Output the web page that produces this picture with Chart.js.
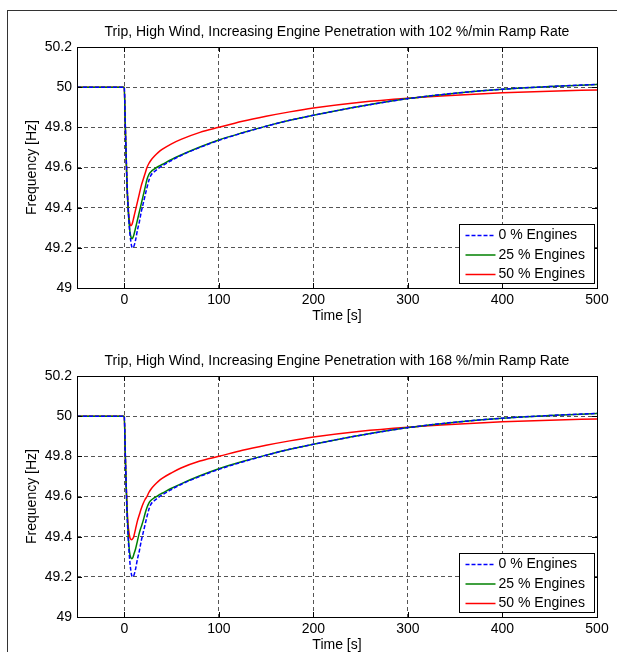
<!DOCTYPE html>
<html>
<head>
<meta charset="utf-8">
<script src="https://cdn.jsdelivr.net/npm/chart.js@4.4.0/dist/chart.umd.min.js"></script>
<style>
    html, body { margin: 0; padding: 0; background: #fff; overflow: hidden; }
    body { width: 617px; height: 652px; position: relative; }
    .page-frame { position: absolute; left: 7px; top: 10px; width: 610px; height: 642px; border-left: 1px solid #333; border-top: 1px solid #333; }
    .plot { position: absolute; left: 0; width: 617px; height: 330px; }
    #chartTop { top: 0; }
    #chartBottom { top: 329px; }
</style>
</head>
<body>
<div class="page-frame"></div>
<div class="plot" id="chartTop"><canvas id="freqTop" width="617" height="330"></canvas></div>
<div class="plot" id="chartBottom"><canvas id="freqBottom" width="617" height="330"></canvas></div>
<script>
const seriesLabels = ['0 % Engines', '25 % Engines', '50 % Engines'];
const xTicks = [0, 100, 200, 300, 400, 500];
const yTicks = [49, 49.2, 49.4, 49.6, 49.8, 50, 50.2];

const timeS = [-50, 0, 1, 2, 3, 4, 5, 6, 7, 8, 9, 10, 12, 14, 16, 18, 20, 22, 24, 26, 28, 32, 36, 40,
    50, 60, 80, 100, 125, 150, 175, 200, 250, 300, 350, 400, 450, 500];

// 102 %/min ramp rate
const blue102 = [50, 50, 49.83, 49.66, 49.51, 49.41, 49.33, 49.27, 49.23, 49.205, 49.2, 49.205, 49.24, 49.29, 49.33, 49.38, 49.42, 49.46, 49.50, 49.535, 49.56, 49.58, 49.595, 49.608,
    49.635, 49.66, 49.70, 49.735, 49.772, 49.805, 49.835, 49.86, 49.905, 49.943, 49.97, 49.99, 50.003, 50.014];
const green102 = [50, 50, 49.82, 49.65, 49.5, 49.4, 49.33, 49.28, 49.255, 49.245, 49.25, 49.262, 49.30, 49.34, 49.38, 49.42, 49.46, 49.50, 49.54, 49.565, 49.578, 49.593, 49.605, 49.615,
    49.64, 49.662, 49.702, 49.737, 49.773, 49.806, 49.835, 49.86, 49.905, 49.943, 49.97, 49.99, 50.003, 50.013];
const red102 = [50, 50, 49.82, 49.65, 49.5, 49.41, 49.35, 49.32, 49.31, 49.315, 49.33, 49.35, 49.39, 49.43, 49.47, 49.51, 49.54, 49.57, 49.60, 49.62, 49.635, 49.657, 49.675, 49.69,
    49.718, 49.74, 49.775, 49.80, 49.83, 49.855, 49.877, 49.896, 49.925, 49.945, 49.96, 49.972, 49.98, 49.986];

// 168 %/min ramp rate
const blue168 = [50, 50, 49.83, 49.66, 49.51, 49.41, 49.33, 49.27, 49.23, 49.205, 49.2, 49.205, 49.24, 49.29, 49.33, 49.38, 49.42, 49.46, 49.50, 49.535, 49.56, 49.58, 49.595, 49.608,
    49.635, 49.66, 49.70, 49.735, 49.772, 49.805, 49.835, 49.86, 49.905, 49.943, 49.97, 49.99, 50.003, 50.014];
const green168 = [50, 50, 49.82, 49.65, 49.52, 49.42, 49.35, 49.31, 49.295, 49.29, 49.295, 49.31, 49.34, 49.38, 49.42, 49.45, 49.48, 49.515, 49.545, 49.567, 49.58, 49.594, 49.606, 49.616,
    49.641, 49.663, 49.703, 49.738, 49.774, 49.806, 49.835, 49.86, 49.905, 49.943, 49.97, 49.99, 50.003, 50.013];
const red168 = [50, 50, 49.82, 49.66, 49.54, 49.46, 49.42, 49.395, 49.387, 49.385, 49.39, 49.40, 49.44, 49.48, 49.51, 49.54, 49.565, 49.585, 49.60, 49.62, 49.635, 49.657, 49.675, 49.69,
    49.718, 49.742, 49.777, 49.80, 49.83, 49.855, 49.877, 49.896, 49.925, 49.945, 49.96, 49.972, 49.98, 49.986];

const FONT = '"Liberation Sans", Arial, Helvetica, sans-serif';
Chart.defaults.font.family = FONT;
Chart.defaults.font.size = 14;
Chart.defaults.color = '#000';

// center the title over the plot box, like matlab does
const titleOverPlot = {
    id: 'titleOverPlot',
    afterLayout(chart) {
        if (chart.titleBlock) {
            chart.titleBlock.left = chart.chartArea.left;
            chart.titleBlock.right = chart.chartArea.right;
        }
    }
};

// matlab style box with inward tick marks
const boxPlugin = {
    id: 'boxPlugin',
    afterDatasetsDraw(chart) {
        const { ctx, chartArea: a, scales } = chart;
        ctx.save();
        ctx.strokeStyle = '#000';
        ctx.lineWidth = 1;
        ctx.beginPath();
        xTicks.forEach(v => {
            const x = Math.round(scales.x.getPixelForValue(v)) + 0.5;
            ctx.moveTo(x, a.bottom); ctx.lineTo(x, a.bottom - 5);
            ctx.moveTo(x, a.top); ctx.lineTo(x, a.top + 5);
        });
        yTicks.forEach(v => {
            const y = Math.round(scales.y.getPixelForValue(v)) + 0.5;
            ctx.moveTo(a.left, y); ctx.lineTo(a.left + 5, y);
            ctx.moveTo(a.right, y); ctx.lineTo(a.right - 5, y);
        });
        ctx.stroke();
        ctx.strokeRect(Math.round(a.left) + 0.5, Math.round(a.top) + 0.5, Math.round(a.right - a.left), Math.round(a.bottom - a.top));
        ctx.restore();
    }
};

const insideLegend = {
    id: 'insideLegend',
    afterDraw(chart) {
        const { ctx, chartArea: a } = chart;
        const w = 135, h = 59;
        const left = Math.round(a.right - 3 - w) + 0.5;
        const top = Math.round(a.bottom - 5 - h) + 0.5;
        ctx.save();
        ctx.fillStyle = '#fff';
        ctx.fillRect(left, top, w, h);
        ctx.strokeStyle = '#000';
        ctx.lineWidth = 1;
        ctx.strokeRect(left, top, w, h);
        ctx.font = '14px ' + FONT;
        ctx.textBaseline = 'middle';
        ctx.fillStyle = '#000';
        chart.data.datasets.forEach((ds, i) => {
            const y = top + 11 + i * 19.5;
            ctx.beginPath();
            ctx.strokeStyle = ds.borderColor;
            ctx.lineWidth = ds.borderWidth;
            ctx.setLineDash(ds.borderDash || []);
            ctx.moveTo(left + 6, y);
            ctx.lineTo(left + 36, y);
            ctx.stroke();
            ctx.setLineDash([]);
            ctx.fillText(ds.label, left + 39, y);
        });
        ctx.restore();
    }
};

function toPoints(values) {
    return timeS.map((t, i) => ({ x: t, y: values[i] }));
}

function makeChart(canvasId, titleText, blue, green, red) {
    const ctx = document.getElementById(canvasId).getContext('2d');
    return new Chart(ctx, {
        type: 'line',
        data: {
            datasets: [
                { label: seriesLabels[0], data: toPoints(blue), borderColor: '#0000ff', borderWidth: 1.5, borderDash: [4, 2] },
                { label: seriesLabels[1], data: toPoints(green), borderColor: '#008000', borderWidth: 1.5 },
                { label: seriesLabels[2], data: toPoints(red), borderColor: '#ff0000', borderWidth: 1.5 }
            ]
        },
        options: {
            responsive: false,
            animation: false,
            events: [],
            layout: { padding: { left: 0, right: 20, top: 0, bottom: 0 } },
            elements: { point: { radius: 0 }, line: { cubicInterpolationMode: 'monotone', fill: false } },
            plugins: {
                legend: { display: false },
                tooltip: { enabled: false },
                title: {
                    display: true,
                    text: titleText,
                    color: '#000',
                    font: { size: 14, weight: 'normal' },
                    padding: { top: 24, bottom: 6.2 }
                }
            },
            scales: {
                x: {
                    type: 'linear',
                    min: -50,
                    max: 500,
                    afterBuildTicks: s => { s.ticks = xTicks.map(v => ({ value: v })); },
                    afterFit: s => { s.height = 42; },
                    grid: { color: '#555', lineWidth: 1, drawTicks: false },
                    border: { display: false, dash: [4, 3] },
                    ticks: { padding: 4, color: '#000', maxRotation: 0 },
                    title: { display: true, text: 'Time [s]', color: '#000', padding: { top: 0, bottom: 5.6 } }
                },
                y: {
                    type: 'linear',
                    min: 49,
                    max: 50.2,
                    afterBuildTicks: s => { s.ticks = yTicks.map(v => ({ value: v })); },
                    afterFit: s => { s.width = 77; },
                    grid: { color: '#555', lineWidth: 1, drawTicks: false },
                    border: { display: false, dash: [4, 3] },
                    ticks: { padding: 5, color: '#000', callback: v => String(Number(v.toFixed(1))) },
                    title: { display: true, text: 'Frequency [Hz]', color: '#000', padding: { top: 24, bottom: 0 } }
                }
            }
        },
        plugins: [titleOverPlot, boxPlugin, insideLegend]
    });
}

makeChart('freqTop', 'Trip, High Wind, Increasing Engine Penetration with 102 %/min Ramp Rate', blue102, green102, red102);
makeChart('freqBottom', 'Trip, High Wind, Increasing Engine Penetration with 168 %/min Ramp Rate', blue168, green168, red168);
</script>
</body>
</html>
